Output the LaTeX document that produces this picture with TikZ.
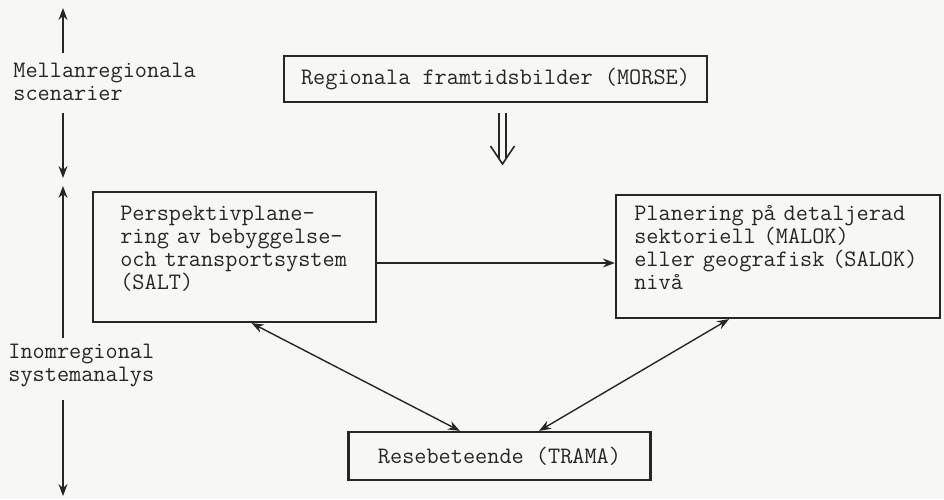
\documentclass[tikz,border=0pt]{standalone}
\usepackage{fontspec}
\usetikzlibrary{arrows.meta,calc}
\definecolor{paper}{RGB}{247,247,245}
\definecolor{ink}{RGB}{38,38,38}
\tikzset{
  box/.style={draw=ink, line width=1.1pt, inner sep=0pt, text=ink},
  boxtext/.style={text=ink, inner sep=0pt, align=left, anchor=west},
  link/.style={draw=ink, line width=0.7pt,
    -{Stealth[length=6pt,width=4.5pt,inset=2pt]}},
  linkboth/.style={draw=ink, line width=0.7pt,
    {Stealth[length=6pt,width=4.5pt,inset=2pt]}-{Stealth[length=6pt,width=4.5pt,inset=2pt]}},
  lbl/.style={text=ink, align=left, inner sep=0pt, anchor=base west},
}
\begin{document}
\begin{tikzpicture}[x=0.5pt, y=-0.5pt, font=\ttfamily\fontsize{11.8pt}{11.5pt}\selectfont]
  % paper
  \fill[paper] (0,0) rectangle (944,499);
  \path[use as bounding box] (0,0) rectangle (944,499);

  % boxes
  \node[box, minimum width=211.5pt, minimum height=23pt, align=center]
    (morse) at (495.5,79) {Regionala framtidsbilder (MORSE)};
  \node[box, minimum width=141.5pt, minimum height=65pt] (salt) at (234.5,257) {};
  \node[boxtext, text width=130pt] (salttext) at ([xshift=14pt, yshift=4pt]salt.west)
    {Perspektivplane-\\ring av bebyggelse-\\och transportsystem\\(SALT)};
  \node[box, minimum width=162pt, minimum height=61.5pt] (plan) at (778,256.5) {};
  \node[boxtext, text width=155pt] (plantext) at ([xshift=9.5pt, yshift=4.5pt]plan.west)
    {Planering på detaljerad\\sektoriell (MALOK)\\eller geografisk (SALOK)\\nivå};
  \node[box, minimum width=151pt, minimum height=24pt, align=center]
    (trama) at (499.5,456) {Resebeteende (TRAMA)};

  % implication arrow below the scenario box
  \coordinate (dtop) at (502.5,113);
  \draw[ink, line width=0.8pt] ($(dtop)+(-3.5,0)$) -- ++(0,45)
                               ($(dtop)+(3.5,0)$) -- ++(0,45);
  \draw[ink, line width=0.8pt] ($(dtop)+(-12,33)$) -- ($(dtop)+(0,51)$) -- ($(dtop)+(12,33)$);

  % connectors between the analysis levels
  \draw[link] ([yshift=-3pt]salt.east) -- ([yshift=-3pt]salt.east -| plan.west);
  \draw[linkboth] ($(salt.south west)!0.56!(salt.south east)$)
               -- ($(trama.north west)!0.37!(trama.north east)$);
  \draw[linkboth] ($(plan.south west)!0.35!(plan.south east)$)
               -- ($(trama.north west)!0.63!(trama.north east)$);

  % scale on the left
  \node[lbl] (mell) at (13,100) {Mellanregionala\\scenarier};
  \node[lbl] (inom) at (8,381) {Inomregional\\systemanalys};
  \coordinate (a1) at (63,53);  \coordinate (a1t) at (63,8);
  \coordinate (a2) at (63,113); \coordinate (a2t) at (63,178);
  \coordinate (a3) at (63,338); \coordinate (a3t) at (63,186);
  \coordinate (a4) at (63,400); \coordinate (a4t) at (63,496);
  \draw[link] (a1) -- (a1t);
  \draw[link] (a2) -- (a2t);
  \draw[link] (a3) -- (a3t);
  \draw[link] (a4) -- (a4t);
\end{tikzpicture}
\end{document}
